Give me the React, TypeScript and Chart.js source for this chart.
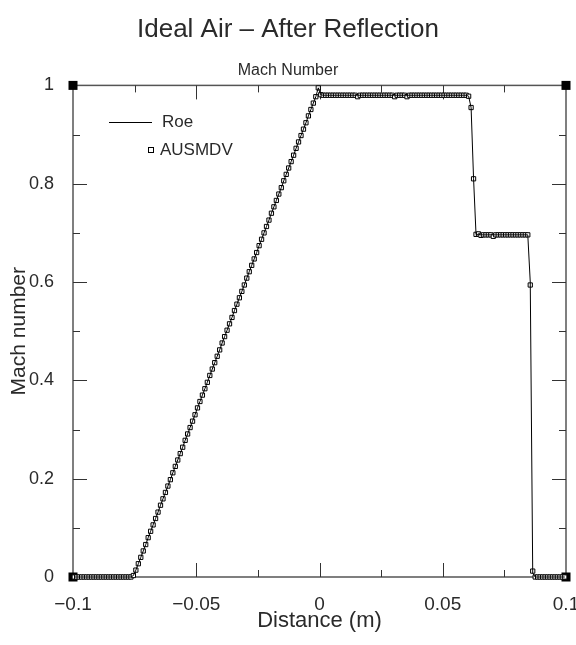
import React, { useEffect, useRef } from 'react';
import { Chart, registerables } from 'chart.js';
Chart.register(...registerables);

// Cell-centre positions (m)
const distance = [
  -0.0995, -0.0985, -0.0975, -0.0965, -0.0955, -0.0945, -0.0935, -0.0925, -0.0915, -0.0905,
  -0.0895, -0.0885, -0.0875, -0.0865, -0.0855, -0.0845, -0.0835, -0.0825, -0.0815, -0.0805,
  -0.0795, -0.0785, -0.0775, -0.0765, -0.0755, -0.0745, -0.0735, -0.0725, -0.0715, -0.0705,
  -0.0695, -0.0685, -0.0675, -0.0665, -0.0655, -0.0645, -0.0635, -0.0625, -0.0615, -0.0605,
  -0.0595, -0.0585, -0.0575, -0.0565, -0.0555, -0.0545, -0.0535, -0.0525, -0.0515, -0.0505,
  -0.0495, -0.0485, -0.0475, -0.0465, -0.0455, -0.0445, -0.0435, -0.0425, -0.0415, -0.0405,
  -0.0395, -0.0385, -0.0375, -0.0365, -0.0355, -0.0345, -0.0335, -0.0325, -0.0315, -0.0305,
  -0.0295, -0.0285, -0.0275, -0.0265, -0.0255, -0.0245, -0.0235, -0.0225, -0.0215, -0.0205,
  -0.0195, -0.0185, -0.0175, -0.0165, -0.0155, -0.0145, -0.0135, -0.0125, -0.0115, -0.0105,
  -0.0095, -0.0085, -0.0075, -0.0065, -0.0055, -0.0045, -0.0035, -0.0025, -0.0015, -0.0005,
  0.0005, 0.0015, 0.0025, 0.0035, 0.0045, 0.0055, 0.0065, 0.0075, 0.0085, 0.0095,
  0.0105, 0.0115, 0.0125, 0.0135, 0.0145, 0.0155, 0.0165, 0.0175, 0.0185, 0.0195,
  0.0205, 0.0215, 0.0225, 0.0235, 0.0245, 0.0255, 0.0265, 0.0275, 0.0285, 0.0295,
  0.0305, 0.0315, 0.0325, 0.0335, 0.0345, 0.0355, 0.0365, 0.0375, 0.0385, 0.0395,
  0.0405, 0.0415, 0.0425, 0.0435, 0.0445, 0.0455, 0.0465, 0.0475, 0.0485, 0.0495,
  0.0505, 0.0515, 0.0525, 0.0535, 0.0545, 0.0555, 0.0565, 0.0575, 0.0585, 0.0595,
  0.0605, 0.0615, 0.0625, 0.0635, 0.0645, 0.0655, 0.0665, 0.0675, 0.0685, 0.0695,
  0.0705, 0.0715, 0.0725, 0.0735, 0.0745, 0.0755, 0.0765, 0.0775, 0.0785, 0.0795,
  0.0805, 0.0815, 0.0825, 0.0835, 0.0845, 0.0855, 0.0865, 0.0875, 0.0885, 0.0895,
  0.0905, 0.0915, 0.0925, 0.0935, 0.0945, 0.0955, 0.0965, 0.0975, 0.0985, 0.0995,
];

// AUSMDV Mach number (markers)
const ausmdv = [
  0, 0, 0, 0, 0, 0, 0, 0, 0, 0,
  0, 0, 0, 0, 0, 0, 0, 0, 0, 0,
  0, 0, 0, 0, 0.003, 0.014, 0.027, 0.040, 0.053, 0.066,
  0.080, 0.093, 0.106, 0.119, 0.132, 0.146, 0.159, 0.172, 0.185, 0.198,
  0.212, 0.225, 0.238, 0.251, 0.264, 0.278, 0.291, 0.304, 0.317, 0.330,
  0.344, 0.357, 0.370, 0.383, 0.396, 0.410, 0.423, 0.436, 0.449, 0.462,
  0.476, 0.489, 0.502, 0.515, 0.528, 0.542, 0.555, 0.568, 0.581, 0.594,
  0.608, 0.621, 0.634, 0.647, 0.660, 0.674, 0.687, 0.700, 0.713, 0.726,
  0.740, 0.753, 0.766, 0.779, 0.792, 0.806, 0.819, 0.832, 0.845, 0.858,
  0.872, 0.885, 0.898, 0.911, 0.924, 0.938, 0.951, 0.964, 0.977, 0.995,
  0.981, 0.980, 0.980, 0.980, 0.980, 0.980, 0.980, 0.980, 0.980, 0.980,
  0.980, 0.980, 0.980, 0.980, 0.980, 0.977, 0.980, 0.980, 0.980, 0.980,
  0.980, 0.980, 0.980, 0.980, 0.980, 0.980, 0.980, 0.980, 0.980, 0.980,
  0.977, 0.980, 0.980, 0.980, 0.980, 0.977, 0.980, 0.980, 0.980, 0.980,
  0.980, 0.980, 0.980, 0.980, 0.980, 0.980, 0.980, 0.980, 0.980, 0.980,
  0.980, 0.980, 0.980, 0.980, 0.980, 0.980, 0.980, 0.980, 0.980, 0.980,
  0.978, 0.955, 0.810, 0.697, 0.698, 0.695, 0.696, 0.696, 0.696, 0.696,
  0.693, 0.696, 0.696, 0.696, 0.696, 0.696, 0.696, 0.696, 0.696, 0.696,
  0.696, 0.696, 0.696, 0.696, 0.696, 0.594, 0.012, 0, 0, 0,
  0, 0, 0, 0, 0, 0, 0, 0, 0, 0,
];

// Roe Mach number (solid line)
const roe = [
  0, 0, 0, 0, 0, 0, 0, 0, 0, 0,
  0, 0, 0, 0, 0, 0, 0, 0, 0, 0,
  0, 0, 0, 0, 0.003, 0.014, 0.027, 0.040, 0.053, 0.066,
  0.080, 0.093, 0.106, 0.119, 0.132, 0.146, 0.159, 0.172, 0.185, 0.198,
  0.212, 0.225, 0.238, 0.251, 0.264, 0.278, 0.291, 0.304, 0.317, 0.330,
  0.344, 0.357, 0.370, 0.383, 0.396, 0.410, 0.423, 0.436, 0.449, 0.462,
  0.476, 0.489, 0.502, 0.515, 0.528, 0.542, 0.555, 0.568, 0.581, 0.594,
  0.608, 0.621, 0.634, 0.647, 0.660, 0.674, 0.687, 0.700, 0.713, 0.726,
  0.740, 0.753, 0.766, 0.779, 0.792, 0.806, 0.819, 0.832, 0.845, 0.858,
  0.872, 0.885, 0.898, 0.911, 0.924, 0.938, 0.951, 0.964, 0.977, 0.995,
  0.981, 0.980, 0.980, 0.980, 0.980, 0.980, 0.980, 0.980, 0.980, 0.980,
  0.980, 0.980, 0.980, 0.980, 0.980, 0.980, 0.980, 0.980, 0.980, 0.980,
  0.980, 0.980, 0.980, 0.980, 0.980, 0.980, 0.980, 0.980, 0.980, 0.980,
  0.980, 0.980, 0.980, 0.980, 0.980, 0.980, 0.980, 0.980, 0.980, 0.980,
  0.980, 0.980, 0.980, 0.980, 0.980, 0.980, 0.980, 0.980, 0.980, 0.980,
  0.980, 0.980, 0.980, 0.980, 0.980, 0.980, 0.980, 0.980, 0.980, 0.980,
  0.978, 0.955, 0.810, 0.697, 0.697, 0.696, 0.696, 0.696, 0.696, 0.696,
  0.696, 0.696, 0.696, 0.696, 0.696, 0.696, 0.696, 0.696, 0.696, 0.696,
  0.696, 0.696, 0.696, 0.696, 0.696, 0.600, 0.008, 0, 0, 0,
  0, 0, 0, 0, 0, 0, 0, 0, 0, 0,
];

const xTickValues = [-0.1, -0.05, 0, 0.05, 0.1];
const xTickLabels = ['\u22120.1', '\u22120.05', '0', '0.05', '0.1'];
const yTickValues = [0, 0.2, 0.4, 0.6, 0.8, 1];
const yTickLabels = ['0', '0.2', '0.4', '0.6', '0.8', '1'];
const xMajorTicks = [-0.05, 0, 0.05];
const xMinorTicks = [-0.075, -0.025, 0.025, 0.075];
const yMajorTicks = [0.2, 0.4, 0.6, 0.8];
const yMinorTicks = [0.1, 0.3, 0.5, 0.7, 0.9];

const FONT = "'Liberation Sans', Arial, sans-serif";
const TEXT = '#2a2a2a';

const decorPlugin = {
  id: 'decor',
  beforeDatasetsDraw(chart: any) {
    const { ctx, chartArea: a, scales } = chart;
    const xs = scales.x;
    const ys = scales.y;
    ctx.save();
    // frame
    ctx.strokeStyle = '#555';
    ctx.lineWidth = 1.5;
    ctx.strokeRect(a.left, a.top, a.right - a.left, a.bottom - a.top);
    // ticks
    ctx.lineWidth = 1;
    ctx.strokeStyle = '#333';
    const seg = (x1: number, y1: number, x2: number, y2: number) => {
      ctx.beginPath();
      ctx.moveTo(x1, y1);
      ctx.lineTo(x2, y2);
      ctx.stroke();
    };
    const xt = (v: number, len: number) => {
      const p = Math.round(xs.getPixelForValue(v)) + 0.5;
      seg(p, a.bottom, p, a.bottom - len);
      seg(p, a.top, p, a.top + len);
    };
    const yt = (v: number, len: number) => {
      const p = Math.round(ys.getPixelForValue(v)) + 0.5;
      seg(a.left, p, a.left + len, p);
      seg(a.right, p, a.right - len, p);
    };
    xMajorTicks.forEach((v) => xt(v, 14));
    xMinorTicks.forEach((v) => xt(v, 7));
    yMajorTicks.forEach((v) => yt(v, 14));
    yMinorTicks.forEach((v) => yt(v, 7));
    // corner blocks
    ctx.fillStyle = '#000';
    [
      [a.left, a.top],
      [a.right, a.top],
      [a.left, a.bottom],
      [a.right, a.bottom],
    ].forEach(([cx, cy]) => ctx.fillRect(cx - 4.5, cy - 4.5, 9, 9));
    ctx.restore();
  },
  afterDatasetsDraw(chart: any) {
    const { ctx } = chart;
    ctx.save();
    ctx.strokeStyle = '#000';
    ctx.lineWidth = 1;
    ctx.beginPath();
    ctx.moveTo(109, 122.5);
    ctx.lineTo(152, 122.5);
    ctx.stroke();
    ctx.fillStyle = '#fff';
    ctx.fillRect(149, 148, 4, 4);
    ctx.strokeRect(148.5, 147.5, 5, 5);
    ctx.fillStyle = TEXT;
    ctx.font = `17px ${FONT}`;
    ctx.textAlign = 'left';
    ctx.textBaseline = 'middle';
    ctx.fillText('Roe', 162, 122);
    ctx.fillText('AUSMDV', 160, 150);
    ctx.restore();
  },
};

export default function App() {
  const ref = useRef<HTMLCanvasElement>(null);
  useEffect(() => {
    if (!ref.current) return;
    const chart = new Chart(ref.current, {
      type: 'scatter',
      data: {
        datasets: [
          {
            label: 'Roe',
            data: distance.map((x, i) => ({ x, y: roe[i] })),
            showLine: true,
            borderColor: '#000',
            borderWidth: 1,
            pointRadius: 0,
            tension: 0,
            clip: false as any,
          },
          {
            label: 'AUSMDV',
            data: distance.map((x, i) => ({ x, y: ausmdv[i] })),
            showLine: false,
            pointStyle: 'rect',
            pointRadius: 3,
            borderColor: '#000',
            backgroundColor: '#fff',
            borderWidth: 1,
            clip: false as any,
          },
        ],
      },
      options: {
        responsive: false,
        animation: false,
        devicePixelRatio: 1,
        layout: { padding: { left: 10, right: 10, top: 0, bottom: 0 } },
        plugins: {
          legend: { display: false },
          tooltip: { enabled: false },
          title: {
            display: true,
            text: 'Ideal Air \u2013 After Reflection',
            color: TEXT,
            font: { family: FONT, size: 26, weight: 'normal' },
            padding: { top: 14, bottom: 16 },
          },
          subtitle: {
            display: true,
            text: 'Mach Number',
            color: TEXT,
            font: { family: FONT, size: 16, weight: 'normal' },
            padding: { top: 0, bottom: 5 },
          },
        },
        scales: {
          x: {
            type: 'linear',
            min: -0.1,
            max: 0.1,
            grid: { display: false },
            border: { display: false },
            afterBuildTicks: (s: any) => {
              s.ticks = xTickValues.map((v) => ({ value: v }));
            },
            afterFit: (s: any) => {
              s.height = 68;
              s.paddingLeft = 0;
              s.paddingRight = 0;
            },
            ticks: {
              color: TEXT,
              padding: 8,
              maxRotation: 0,
              autoSkip: false,
              font: { family: FONT, size: 19 },
              callback: (_v: any, i: number) => xTickLabels[i],
            },
            title: {
              display: true,
              text: 'Distance (m)',
              color: TEXT,
              font: { family: FONT, size: 22 },
              padding: { top: 0, bottom: 11 },
            },
          },
          y: {
            type: 'linear',
            min: 0,
            max: 1,
            grid: { display: false },
            border: { display: false },
            afterBuildTicks: (s: any) => {
              s.ticks = yTickValues.map((v) => ({ value: v }));
            },
            afterFit: (s: any) => {
              s.width = 63;
              s.paddingTop = 0;
              s.paddingBottom = 0;
            },
            ticks: {
              color: TEXT,
              padding: 11,
              autoSkip: false,
              font: { family: FONT, size: 18 },
              callback: (_v: any, i: number) => yTickLabels[i],
            },
            title: {
              display: true,
              text: 'Mach number',
              color: TEXT,
              font: { family: FONT, size: 21 },
              padding: { top: -3, bottom: 0 },
            },
          },
        },
      },
      plugins: [decorPlugin],
    });
    return () => chart.destroy();
  }, []);
  return (
    <div style={{ position: 'absolute', left: 0, top: 0, width: 576, height: 645, background: '#fff' }}>
      <canvas ref={ref} width={576} height={645} />
    </div>
  );
}
